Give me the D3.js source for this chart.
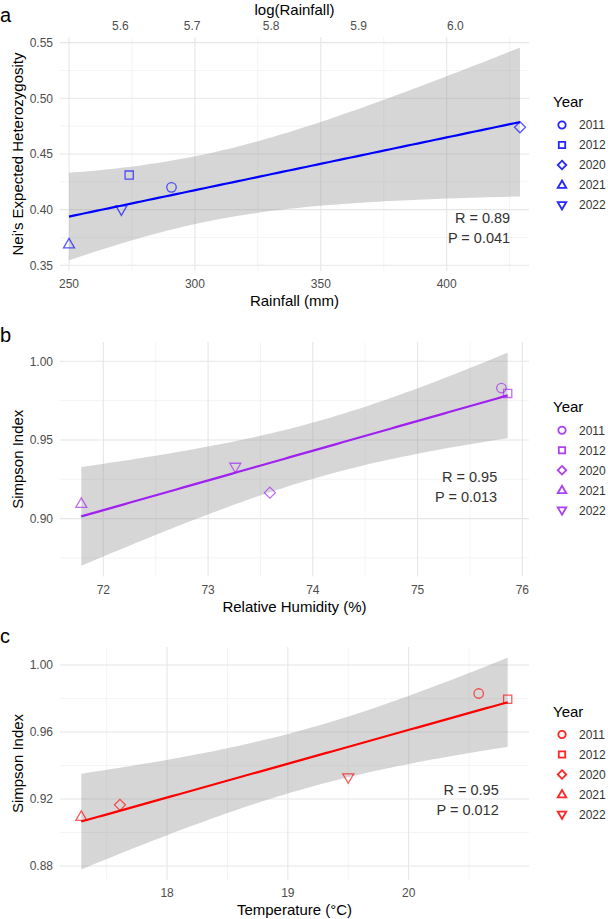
<!DOCTYPE html>
<html>
<head>
<meta charset="utf-8">
<script src="https://cdn.jsdelivr.net/npm/d3@7"></script>
<style>
  body { margin: 0; background: #fff; }
  text { font-family: "Liberation Sans", Arial, sans-serif; }
</style>
</head>
<body>
<svg id="chart" width="608" height="919"></svg>
<script>
// values
const years = ["2011", "2012", "2020", "2021", "2022"];
const shapes = ["circle", "square", "diamond", "triangle", "triangleDown"];
const rainfall = [290.7, 273.9, 429.1, 250.0, 270.8];
const heterozygosity = [0.420, 0.431, 0.474, 0.369, 0.400];
const humidity = [75.80, 75.86, 73.59, 71.79, 73.26];
const temperature = [20.58, 20.82, 17.61, 17.29, 19.50];
const simpson = [0.983, 0.9796, 0.9165, 0.9095, 0.9328];

const rainTicks = [250, 300, 350, 400];
const logRainTicks = [5.6, 5.7, 5.8, 5.9, 6.0];
const hetTicks = [0.35, 0.40, 0.45, 0.50, 0.55];
const humTicks = [72, 73, 74, 75, 76];
const simpsonTicksB = [0.90, 0.95, 1.00];
const tempTicks = [18, 19, 20];
const simpsonTicksC = [0.88, 0.92, 0.96, 1.00];

const statsA = ["R = 0.89", "P = 0.041"];
const statsB = ["R = 0.95", "P = 0.013"];
const statsC = ["R = 0.95", "P = 0.012"];

const T975_DF3 = 3.182446; // t quantile for 95% CI, n = 5

const svg = d3.select("#chart");
const left = 60, right = 529;

const panels = [
  { tag: "a", tagY: 22, x: rainfall, y: heterozygosity, color: "#0000ff",
    top: 37, bottom: 271, xPad: 0.02,
    xTicks: rainTicks, yTicks: hetTicks, xFmt: d3.format("d"), yFmt: d3.format(".2f"),
    xTitle: "Rainfall (mm)", yTitle: "Nei's Expected Heterozygosity",
    stats: statsA, statAt: [425.2, 0.3925] },
  { tag: "b", tagY: 342, x: humidity, y: simpson, color: "#a020f0",
    top: 342, bottom: 576.5, xPad: 0.05,
    xTicks: humTicks, yTicks: simpsonTicksB, xFmt: d3.format("d"), yFmt: d3.format(".2f"),
    xTitle: "Relative Humidity (%)", yTitle: "Simpson Index",
    stats: statsB, statAt: [75.76, 0.9264] },
  { tag: "c", tagY: 643, x: temperature, y: simpson, color: "#ff0000",
    top: 647, bottom: 880, xPad: 0.05,
    xTicks: tempTicks, yTicks: simpsonTicksC, xFmt: d3.format("d"), yFmt: d3.format(".2f"),
    xTitle: "Temperature (\u00B0C)", yTitle: "Simpson Index",
    stats: statsC, statAt: [20.746, 0.9255] }
];

function shapePath(kind, s) {
  if (kind === "circle") {
    const r = s * 0.95;
    return `M${-r},0A${r},${r} 0 1,0 ${r},0A${r},${r} 0 1,0 ${-r},0Z`;
  }
  if (kind === "square") { const h = s * 0.82; return `M${-h},${-h}H${h}V${h}H${-h}Z`; }
  if (kind === "diamond") { const h = s * 1.1; return `M0,${-h}L${h},0L0,${h}L${-h},0Z`; }
  const w = s * 1.1, hUp = s * 0.75, hDn = s * 1.15;
  if (kind === "triangle") return `M0,${-hDn}L${w},${hUp}L${-w},${hUp}Z`;
  return `M0,${hDn}L${w},${-hUp}L${-w},${-hUp}Z`;
}

// lm fit + 95% confidence band, as geom_smooth(method = "lm") draws it
function fitLm(xs, ys) {
  const n = xs.length;
  const mx = d3.mean(xs), my = d3.mean(ys);
  let sxx = 0, sxy = 0;
  xs.forEach((x, i) => { sxx += (x - mx) ** 2; sxy += (x - mx) * (ys[i] - my); });
  const b = sxy / sxx, a = my - b * mx;
  let sse = 0;
  xs.forEach((x, i) => { sse += (ys[i] - (a + b * x)) ** 2; });
  const s = Math.sqrt(sse / (n - 2));
  const [x0, x1] = d3.extent(xs);
  return d3.range(81).map(k => {
    const x = x0 + (x1 - x0) * k / 80;
    const fit = a + b * x;
    const half = T975_DF3 * s * Math.sqrt(1 / n + (x - mx) ** 2 / sxx);
    return { x, fit, lo: fit - half, hi: fit + half };
  });
}

panels.forEach(p => {
  const band = fitLm(p.x, p.y);
  const xExt = d3.extent(p.x);
  const xr = xExt[1] - xExt[0];
  const yLo = d3.min([...p.y, ...band.map(d => d.lo)]);
  const yHi = d3.max([...p.y, ...band.map(d => d.hi)]);
  const yr = yHi - yLo;

  const x = d3.scaleLinear().domain([xExt[0] - xr * p.xPad, xExt[1] + xr * p.xPad]).range([left, right]);
  const y = d3.scaleLinear().domain([yLo - yr * 0.05, yHi + yr * 0.05]).range([p.bottom, p.top]);

  const g = svg.append("g");

  // minor grid at midpoints between majors
  const xStep = p.xTicks[1] - p.xTicks[0];
  const yStep = p.yTicks[1] - p.yTicks[0];
  const xMinor = d3.range(-1, p.xTicks.length + 1).map(i => p.xTicks[0] + (i - 0.5) * xStep)
    .filter(v => v > x.domain()[0] && v < x.domain()[1]);
  const yMinor = d3.range(-1, p.yTicks.length + 1).map(i => p.yTicks[0] + (i - 0.5) * yStep)
    .filter(v => v > y.domain()[0] && v < y.domain()[1]);

  g.selectAll(".xmin").data(xMinor).join("line")
    .attr("x1", d => x(d)).attr("x2", d => x(d)).attr("y1", p.top).attr("y2", p.bottom)
    .attr("stroke", "#efefef").attr("stroke-width", 0.7);
  g.selectAll(".ymin").data(yMinor).join("line")
    .attr("y1", d => y(d)).attr("y2", d => y(d)).attr("x1", left).attr("x2", right)
    .attr("stroke", "#efefef").attr("stroke-width", 0.7);
  g.selectAll(".xmaj").data(p.xTicks).join("line")
    .attr("x1", d => x(d)).attr("x2", d => x(d)).attr("y1", p.top).attr("y2", p.bottom)
    .attr("stroke", "#e6e6e6").attr("stroke-width", 1.1);
  g.selectAll(".ymaj").data(p.yTicks).join("line")
    .attr("y1", d => y(d)).attr("y2", d => y(d)).attr("x1", left).attr("x2", right)
    .attr("stroke", "#e6e6e6").attr("stroke-width", 1.1);

  // ribbon + fitted line
  g.append("path").datum(band)
    .attr("d", d3.area().x(d => x(d.x)).y0(d => y(d.lo)).y1(d => y(d.hi)))
    .attr("fill", "#999999").attr("fill-opacity", 0.4);
  g.append("path").datum(band)
    .attr("d", d3.line().x(d => x(d.x)).y(d => y(d.fit)))
    .attr("fill", "none").attr("stroke", p.color).attr("stroke-width", 2.2);

  // points
  g.selectAll(".pt").data(years).join("path")
    .attr("transform", (d, i) => `translate(${x(p.x[i])},${y(p.y[i])})`)
    .attr("d", (d, i) => shapePath(shapes[i], 5))
    .attr("fill", "none").attr("stroke", p.color).attr("stroke-opacity", 0.65).attr("stroke-width", 1.3);

  // tick labels
  g.selectAll(".xl").data(p.xTicks).join("text")
    .attr("x", d => x(d)).attr("y", p.bottom + 17)
    .attr("text-anchor", "middle").attr("font-size", 12).attr("fill", "#4d4d4d")
    .text(p.xFmt);
  g.selectAll(".yl").data(p.yTicks).join("text")
    .attr("x", 53).attr("y", d => y(d) + 4.3)
    .attr("text-anchor", "end").attr("font-size", 12).attr("fill", "#4d4d4d")
    .text(p.yFmt);

  // axis titles
  g.append("text").attr("x", (left + right) / 2).attr("y", p.bottom + 35)
    .attr("text-anchor", "middle").attr("font-size", 15).attr("fill", "#000").text(p.xTitle);
  g.append("text")
    .attr("transform", `translate(23,${(p.top + p.bottom) / 2}) rotate(-90)`)
    .attr("text-anchor", "middle").attr("font-size", 15).attr("fill", "#000").text(p.yTitle);

  // panel tag
  g.append("text").attr("x", 0).attr("y", p.tagY)
    .attr("font-size", 20).attr("fill", "#000").text(p.tag);

  // R / P annotation
  g.selectAll(".st").data(p.stats).join("text")
    .attr("x", x(p.statAt[0])).attr("y", (d, i) => y(p.statAt[1]) + 5 + i * 20)
    .attr("text-anchor", "end").attr("font-size", 14.5).attr("fill", "#333")
    .text(d => d);

  // secondary log axis for rainfall panel
  if (p.tag === "a") {
    g.selectAll(".tl").data(logRainTicks).join("text")
      .attr("x", d => x(Math.exp(d))).attr("y", 30)
      .attr("text-anchor", "middle").attr("font-size", 12).attr("fill", "#4d4d4d")
      .text(d3.format(".1f"));
    g.append("text").attr("x", (left + right) / 2).attr("y", 15)
      .attr("text-anchor", "middle").attr("font-size", 15).attr("fill", "#000").text("log(Rainfall)");
  }

  // legend
  const cy = (p.top + p.bottom) / 2;
  const lg = g.append("g");
  lg.append("text").attr("x", 553).attr("y", cy - 47)
    .attr("font-size", 15).attr("fill", "#000").text("Year");
  const item = lg.selectAll(".li").data(years).join("g")
    .attr("transform", (d, i) => `translate(562,${cy - 29 + i * 20})`);
  item.append("path").attr("d", (d, i) => shapePath(shapes[i], 3.9))
    .attr("fill", "none").attr("stroke", p.color).attr("stroke-opacity", 0.85).attr("stroke-width", 1.8);
  item.append("text").attr("x", 17).attr("y", 4.3)
    .attr("font-size", 12).attr("fill", "#333").text(d => d);
});
</script>
</body>
</html>
